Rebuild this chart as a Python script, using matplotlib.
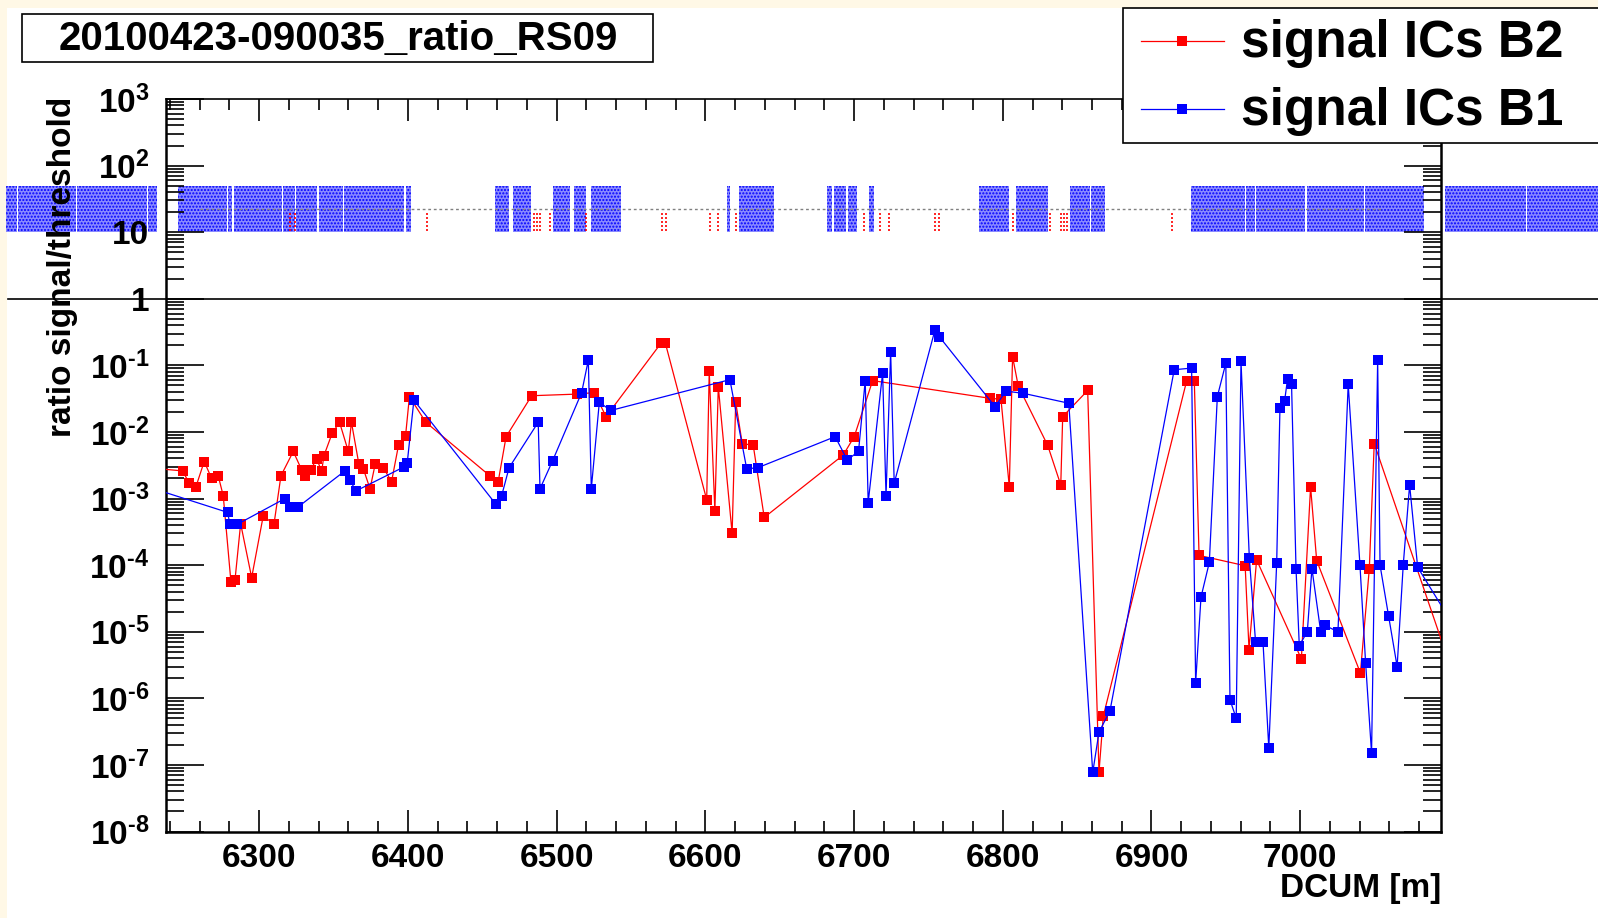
import numpy as np
import matplotlib
matplotlib.use('Agg')
from matplotlib import pyplot as plt
from matplotlib.ticker import MultipleLocator, LogLocator, FuncFormatter, NullFormatter
from matplotlib.patches import Rectangle
from matplotlib.lines import Line2D

plt.rcParams['font.family'] = ['Liberation Sans', 'DejaVu Sans']
plt.rcParams['font.weight'] = 'bold'
plt.rcParams['mathtext.fontset'] = 'custom'
plt.rcParams['mathtext.rm'] = 'Liberation Sans:bold'
plt.rcParams['mathtext.it'] = 'Liberation Sans:bold'
plt.rcParams['mathtext.bf'] = 'Liberation Sans:bold'
plt.rcParams['hatch.linewidth'] = 1.0

W, H = 1598, 918

TITLE = '20100423-090035_ratio_RS09'
LEGEND_LABELS = ['signal ICs B2', 'signal ICs B1']

# signal ICs B2 (red)
B2_X = [6225, 6248.5, 6252.9, 6257.4, 6263, 6268, 6272.4, 6275.8, 6281, 6283.7,
        6287.5, 6294.9, 6302.7, 6309.9, 6314.6, 6322.9, 6328.5, 6330.7, 6334.5, 6338.6,
        6342, 6343.5, 6349, 6354, 6359.9, 6362, 6367, 6370, 6374.5, 6378,
        6383.4, 6389, 6393.7, 6398.4, 6401, 6412, 6455, 6460.7, 6466, 6483.2,
        6513.4, 6525.3, 6533.2, 6570.5, 6573, 6600.9, 6602.6, 6606.4, 6608.7, 6618,
        6620.4, 6624.8, 6632.2, 6639.6, 6692.7, 6700.1, 6712.5, 6791.4, 6798.8, 6804.4,
        6806.6, 6810.4, 6830.2, 6839, 6840.3, 6857.1, 6864.7, 6867.6, 6923.7, 6928.8,
        6932, 6963, 6965.6, 6970.7, 7000.8, 7007, 7011.1, 7040.5, 7046.5, 7049.8, 7100]
B2_Y = [2.9e-3, 2.6e-3, 1.7e-3, 1.5e-3, 3.6e-3, 2.0e-3, 2.2e-3, 1.1e-3, 5.5e-5, 6.0e-5,
        4.2e-4, 6.5e-5, 5.5e-4, 4.1e-4, 2.2e-3, 5.1e-3, 2.7e-3, 2.2e-3, 2.7e-3, 3.9e-3,
        2.6e-3, 4.4e-3, 9.5e-3, 1.4e-2, 5.1e-3, 1.4e-2, 3.3e-3, 2.8e-3, 1.4e-3, 3.3e-3,
        2.9e-3, 1.8e-3, 6.4e-3, 8.8e-3, 3.4e-2, 1.4e-2, 2.2e-3, 1.8e-3, 8.5e-3, 3.5e-2,
        3.7e-2, 3.9e-2, 1.7e-2, 0.22, 0.22, 9.6e-4, 8.1e-2, 6.6e-4, 4.8e-2, 3.0e-4,
        2.8e-2, 6.7e-3, 6.3e-3, 5.2e-4, 4.5e-3, 8.5e-3, 5.9e-2, 3.2e-2, 3.1e-2, 1.5e-3,
        0.135, 4.9e-2, 6.3e-3, 1.6e-3, 1.7e-2, 4.2e-2, 7.7e-8, 5.4e-7, 5.9e-2, 5.9e-2,
        1.4e-4, 9.8e-5, 5.4e-6, 1.2e-4, 3.9e-6, 1.5e-3, 1.17e-4, 2.4e-6, 8.9e-5, 6.7e-3, 3.5e-6]

# signal ICs B1 (blue)
B1_X = [6225, 6278.7, 6280.3, 6285.2, 6317.3, 6320.6, 6326.2, 6357.6, 6361, 6365,
        6397.5, 6399.5, 6404, 6459, 6463, 6468, 6487.6, 6488.8, 6497.3, 6516.8,
        6521.3, 6523.3, 6528.7, 6536.3, 6616.5, 6627.8, 6635.2, 6687.3, 6695.4, 6703,
        6707.5, 6709.5, 6719.2, 6721.5, 6724.6, 6727, 6754.4, 6757.3, 6794.8, 6802.2,
        6813.9, 6844.4, 6860.5, 6864.7, 6872.1, 6915.3, 6927, 6929.7, 6933.3, 6938.9,
        6944.3, 6950, 6952.8, 6957, 6960.2, 6965.8, 6970, 6975, 6978.9, 6984.2,
        6986.4, 6989.5, 6991.5, 6994.2, 6997.2, 6999.4, 7004.8, 7007.9, 7013.8, 7016.5,
        7025.4, 7032.3, 7040.2, 7044, 7048, 7052.1, 7053.7, 7059.5, 7065.2, 7069.3,
        7073.6, 7079, 7110]
B1_Y = [1.5e-3, 6.2e-4, 4.1e-4, 4.1e-4, 1.0e-3, 7.5e-4, 7.5e-4, 2.6e-3, 1.9e-3, 1.3e-3,
        3.0e-3, 3.4e-3, 3.0e-2, 8.3e-4, 1.1e-3, 2.9e-3, 1.4e-2, 1.4e-3, 3.7e-3, 3.9e-2,
        0.12, 1.4e-3, 2.8e-2, 2.1e-2, 6.1e-2, 2.8e-3, 2.9e-3, 8.5e-3, 3.8e-3, 5.1e-3,
        5.9e-2, 8.7e-4, 7.7e-2, 1.1e-3, 0.16, 1.7e-3, 0.34, 0.27, 2.4e-2, 4.1e-2,
        3.8e-2, 2.7e-2, 7.7e-8, 3.1e-7, 6.5e-7, 8.6e-2, 9.1e-2, 1.7e-6, 3.3e-5, 1.1e-4,
        3.4e-2, 0.108, 9.5e-7, 5.0e-7, 0.115, 1.3e-4, 7e-6, 7e-6, 1.8e-7, 1.07e-4,
        2.3e-2, 2.9e-2, 6.2e-2, 5.2e-2, 8.9e-5, 6.2e-6, 1.0e-5, 8.9e-5, 1.0e-5, 1.25e-5,
        1.0e-5, 5.2e-2, 1.0e-4, 3.4e-6, 1.5e-7, 0.12, 1.0e-4, 1.7e-5, 3.0e-6, 1.0e-4,
        1.6e-3, 9.3e-5, 7e-6]

# top band: B1 blocks (x start, x end) and B2 dashes
BAND_B1 = [(6130, 6137.3), (6138, 6177), (6177.7, 6224.2), (6225, 6231),
           (6245.3, 6278.5), (6279.3, 6282), (6282.7, 6315.5), (6316.3, 6324.3),
           (6325, 6339), (6340, 6356), (6356.7, 6397.6), (6398.4, 6402),
           (6458.6, 6467.8), (6470.4, 6482.7),
           (6497.5, 6509), (6511.6, 6519.7), (6523, 6543.3),
           (6614.5, 6616.5), (6622.6, 6646),
           (6681.8, 6685.5), (6686.8, 6694.5), (6695.9, 6702.3), (6710, 6713.7),
           (6784, 6804.2), (6808.9, 6830.4), (6845.2, 6858.6), (6859.4, 6868.8),
           (6926.6, 6962.8), (6963.6, 6969.7), (6970.5, 7003.5), (7004.3, 7042.8), (7043.6, 7083.2),
           (7097.3, 7151.6), (7152.4, 7210)]
BAND_LOW, BAND_HIGH = 10, 50
BAND_B2_X = [6320.6, 6324, 6412.8, 6484.7, 6486.7, 6488.8, 6495.5, 6519.7, 6570.8, 6573.5,
             6603, 6608.4, 6620.5, 6706.7, 6717.4, 6723.5, 6754.4, 6757, 6806.8, 6831.7,
             6839, 6841, 6843.2, 6913.8]
BAND_B2_LOW, BAND_B2_HIGH = 10.5, 20
THRESH_LEVEL = 22
THRESH_RANGE = (6260, 7055)


def fig_xy(x, y):
    return x / W, 1 - y / H


def log_label(v, pos):
    e = int(round(np.log10(v)))
    if e == 0:
        return '1'
    if e == 1:
        return '10'
    if e < 0:
        return r'$10^{\text{-}%d}$' % (-e)
    return r'$10^{%d}$' % e


fig = plt.figure(figsize=(W / 100, H / 100), dpi=100, facecolor='#fff8e6')
fig.patches.append(Rectangle(fig_xy(7, H), (W - 7) / W, (H - 8) / H, transform=fig.transFigure,
                             facecolor='white', edgecolor='none', zorder=-10))

x0, y0 = fig_xy(166, 831.5)
x1, y1 = fig_xy(1441, 99)
ax = fig.add_axes([x0, y0, x1 - x0, y1 - y0])
ax.set_zorder(1)
ax.set_yscale('log')
ax.set_xlim(6237.3, 7094.7)
ax.set_ylim(1e-8, 1e3)

# top band
for s, e in BAND_B1:
    ax.fill_between([s, e], BAND_LOW, BAND_HIGH, facecolor='#8a8aff', edgecolor='#0000ff',
                    hatch='.....', linewidth=0, clip_on=False, zorder=1)
ax.vlines(BAND_B2_X, BAND_B2_LOW, BAND_B2_HIGH, colors='red', linestyles=(0, (1.2, 1.2)),
          linewidth=1.2, zorder=2)
ax.hlines(THRESH_LEVEL, THRESH_RANGE[0], THRESH_RANGE[1], colors='gray',
          linestyles=(0, (2, 2)), linewidth=1, zorder=2)

# line at ratio = 1 across the whole canvas
ax.plot([6131, 7300], [1, 1], color='black', linewidth=1.2, clip_on=False, zorder=3)

ax.plot(B2_X, B2_Y, color='red', linewidth=0.9, marker='s', markersize=6.5,
        markeredgewidth=0, zorder=4)
ax.plot(B1_X, B1_Y, color='blue', linewidth=0.9, marker='s', markersize=6.5,
        markeredgewidth=0, zorder=5)

# ROOT-like axes
for side, lw in zip(['left', 'bottom', 'top', 'right'], [1.8, 1.8, 1.2, 1.8]):
    ax.spines[side].set_linewidth(lw)
ax.xaxis.set_major_locator(MultipleLocator(100))
ax.xaxis.set_minor_locator(MultipleLocator(20))
ax.yaxis.set_major_locator(LogLocator(base=10, numticks=20))
ax.yaxis.set_minor_locator(LogLocator(base=10, subs=np.arange(2, 10), numticks=20))
ax.yaxis.set_major_formatter(FuncFormatter(log_label))
ax.yaxis.set_minor_formatter(NullFormatter())
ax.tick_params(which='both', direction='in', top=True, right=True, width=1.2, colors='black')
ax.tick_params(axis='x', which='major', length=16, pad=8, labelsize=24)
ax.tick_params(axis='x', which='minor', length=8)
ax.tick_params(axis='y', which='major', length=27, pad=12, labelsize=24)
ax.tick_params(axis='y', which='minor', length=13)

fig.text(*fig_xy(63, 97), 'ratio signal/threshold', rotation=90, ha='center', va='top',
         fontsize=24, fontweight='bold')
fig.text(*fig_xy(1441, 888), 'DCUM [m]', ha='right', va='center', fontsize=24, fontweight='bold')

# title box
fig.patches.append(Rectangle(fig_xy(22, 62), 631 / W, 48 / H, transform=fig.transFigure,
                             facecolor='white', edgecolor='black', linewidth=1.2, zorder=5))
fig.text(*fig_xy(338, 39), TITLE, ha='center', va='center', fontsize=29, fontweight='bold',
         zorder=6)

# legend box
fig.patches.append(Rectangle(fig_xy(1123, 143), 500 / W, 135 / H, transform=fig.transFigure,
                             facecolor='white', edgecolor='black', linewidth=1.2, zorder=5))
for lab, col, ly in zip(LEGEND_LABELS, ['red', 'blue'], [41, 109]):
    lx0, lyy = fig_xy(1141, ly)
    lx1, _ = fig_xy(1224, ly)
    lm, _ = fig_xy(1182, ly)
    fig.lines.append(Line2D([lx0, lx1], [lyy, lyy], transform=fig.transFigure, color=col,
                            linewidth=0.9, zorder=6))
    fig.lines.append(Line2D([lm], [lyy], transform=fig.transFigure, color=col, marker='s',
                            markersize=7, markeredgewidth=0, zorder=6))
    fig.text(*fig_xy(1241, ly + 2), lab, ha='left', va='center', fontsize=37, fontweight='bold',
             zorder=6)

fig.savefig('out.png', dpi=100, facecolor=fig.get_facecolor())
